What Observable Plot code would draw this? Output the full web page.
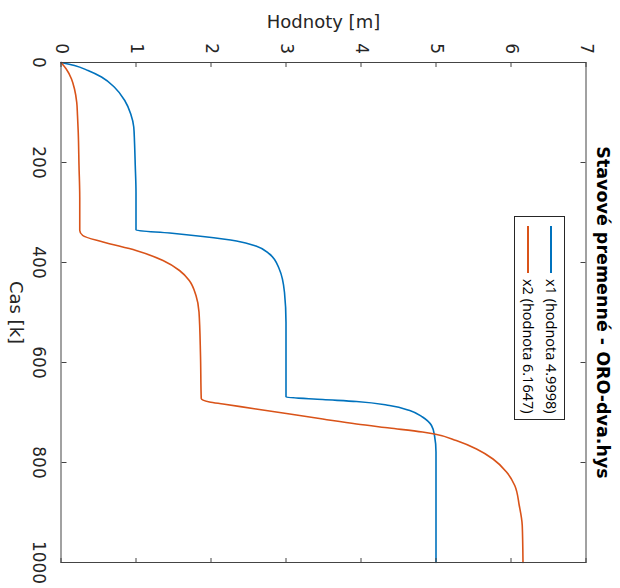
<!DOCTYPE html>
<html>
<head>
<meta charset="utf-8">
<script src="https://cdn.jsdelivr.net/npm/d3@7"></script>
<script src="https://cdn.jsdelivr.net/npm/@observablehq/plot@0.6"></script>
<style>
  html, body { margin: 0; padding: 0; background: #fff; overflow: hidden; width: 620px; height: 588px; }
  #wrap {
    position: absolute; left: 0; top: 0; width: 588px; height: 620px;
    transform-origin: 0 0; transform: translate(620px, 0) rotate(90deg);
    font-family: "DejaVu Sans", sans-serif; background: #fff;
  }
  #legend {
    position: absolute; left: 216px; top: 55px; width: 204px; height: 51px;
    box-sizing: border-box; border: 1px solid #262626; background: #fff;
    font-family: "Open Sans", sans-serif; font-size: 14.5px; color: #000;
  }
  .entry { position: absolute; left: 0; height: 20px; width: 100%; }
  .entry .sw { position: absolute; left: 9px; top: 9px; width: 47px; height: 1.5px; }
  .entry .lb { position: absolute; left: 62px; top: 0; line-height: 20px; white-space: nowrap; }
</style>
</head>
<body>
<div id="wrap"></div>
<script>
// Title, axis labels, legend labels
const titleText = "Stavové premenné - ORO-dva.hys";
const xLabel = "Cas [k]";
const yLabel = "Hodnoty [m]";
const seriesNames = ["x1 (hodnota 4.9998)", "x2 (hodnota 6.1647)"];
const seriesColors = ["#0072BD", "#D95319"];

// Tick values
const timeTicks = [0, 200, 400, 600, 800, 1000];
const valueTicks = [0, 1, 2, 3, 4, 5, 6, 7];

// Series x1
const x1Time = [0, 6, 16, 29, 49, 76, 103, 129, 159, 206, 260, 335, 341, 348, 357, 367, 383, 413, 460, 520, 586, 669, 674, 678, 686, 696, 709, 726, 746, 779, 850, 1000];
const x1Val  = [0, 0.18, 0.36, 0.54, 0.71, 0.85, 0.93, 0.97, 0.98, 0.99, 1.0, 1.0, 1.45, 1.89, 2.34, 2.60, 2.78, 2.91, 2.98, 3.0, 3.0, 3.0, 3.49, 3.94, 4.38, 4.65, 4.82, 4.94, 4.98, 5.0, 5.0, 5.0];

// Series x2
const x2Time = [0, 13, 33, 53, 80, 106, 140, 206, 270, 336, 346, 359, 376, 396, 416, 436, 466, 499, 586, 672, 679, 683, 693, 703, 713, 723, 731, 739, 743, 756, 773, 793, 819, 846, 886, 926, 1000];
const x2Val  = [0, 0.07, 0.14, 0.18, 0.21, 0.22, 0.23, 0.24, 0.25, 0.25, 0.29, 0.56, 1.0, 1.36, 1.58, 1.71, 1.80, 1.84, 1.86, 1.87, 1.98, 2.16, 2.60, 3.05, 3.49, 3.94, 4.38, 4.82, 4.98, 5.27, 5.54, 5.76, 5.94, 6.05, 6.11, 6.15, 6.16];

const rows = [
  ...x1Time.map((t, i) => ({series: seriesNames[0], t, v: x1Val[i]})),
  ...x2Time.map((t, i) => ({series: seriesNames[1], t, v: x2Val[i]}))
];

const axisColor = "#444";
const textColor = "#262626";
const fmt = d => String(d);

const chart = Plot.plot({
  width: 588,
  height: 620,
  marginLeft: 62,
  marginRight: 26,
  marginTop: 33.5,
  marginBottom: 61.5,
  style: { fontFamily: "DejaVu Sans", fontSize: "17px", color: textColor, background: "#fff", overflow: "visible" },
  x: { domain: [0, 1000] },
  y: { domain: [0, 7] },
  color: { domain: seriesNames, range: seriesColors },
  marks: [
    Plot.line(rows, { x: "t", y: "v", stroke: "series", strokeWidth: 1.6, curve: "monotone-x" }),
    Plot.frame({ stroke: axisColor, strokeWidth: 1 }),
    Plot.axisX(timeTicks, { anchor: "bottom", tickSize: -5, tickPadding: 21, tickFormat: fmt, label: null, stroke: axisColor, fill: textColor, fontSize: 17 }),
    Plot.axisX(timeTicks, { anchor: "top", tickSize: -5, tickFormat: () => "", label: null, stroke: axisColor }),
    Plot.axisY(valueTicks, { anchor: "left", tickSize: -5, tickPadding: 13.5, tickFormat: fmt, label: null, stroke: axisColor, fill: textColor, fontSize: 17 }),
    Plot.axisY(valueTicks, { anchor: "right", tickSize: -5, tickFormat: () => "", label: null, stroke: axisColor }),
    Plot.text([xLabel], { frameAnchor: "bottom", textAnchor: "middle", dy: 51, fontSize: 18, fill: textColor }),
    Plot.text([yLabel], { frameAnchor: "left", textAnchor: "middle", dx: -40, rotate: -90, fontSize: 18, fill: textColor }),
    Plot.text([titleText], { frameAnchor: "top", textAnchor: "middle", dy: -23, fontSize: 17.5, fontWeight: "bold", fill: "#000" })
  ]
});

const wrap = document.getElementById("wrap");
wrap.appendChild(chart);

// Legend (MATLAB style box inside the axes)
const legend = document.createElement("div");
legend.id = "legend";
seriesNames.forEach((name, i) => {
  const e = document.createElement("div");
  e.className = "entry";
  e.style.top = (3 + i * 23) + "px";
  const sw = document.createElement("div");
  sw.className = "sw";
  sw.style.background = seriesColors[i];
  const lb = document.createElement("div");
  lb.className = "lb";
  lb.textContent = name;
  e.appendChild(sw);
  e.appendChild(lb);
  legend.appendChild(e);
});
wrap.appendChild(legend);
</script>
</body>
</html>
